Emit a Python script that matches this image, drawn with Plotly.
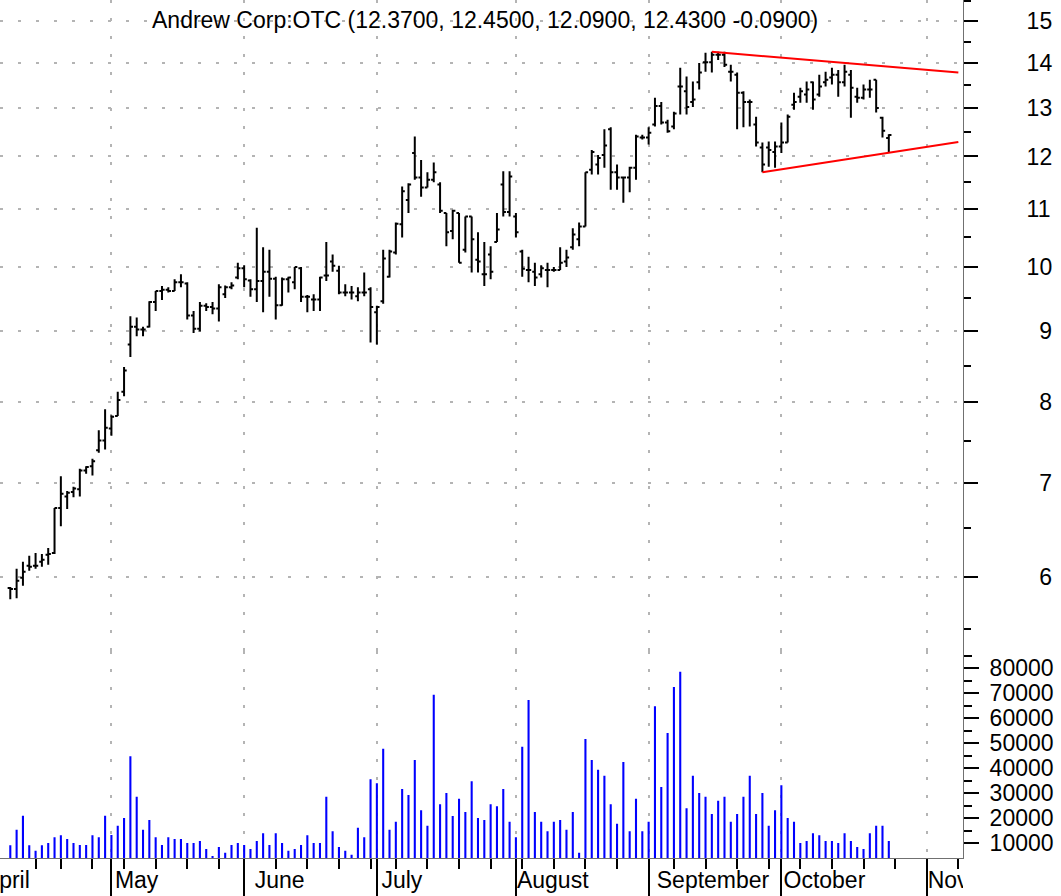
import pandas as pd
import plotly.graph_objects as go

# ---------------- data ----------------
holidays = ["2003-04-18", "2003-05-26", "2003-07-04", "2003-09-01"]
first_day = "2003-04-08"
last_day = "2003-10-24"

opens = [5.89, 5.88, 5.99, 6.11, 6.11, 6.15, 6.22, 6.24, 6.72, 6.85,
         6.90, 6.93, 7.15, 7.20, 7.39, 7.51, 7.66, 7.82, 8.14, 8.80,
         9.06, 9.02, 9.06, 9.44, 9.61, 9.63, 9.61, 9.75, 9.73, 9.23,
         9.03, 9.38, 9.36, 9.34, 9.56, 9.67, 9.83, 9.98, 9.78, 9.64,
         9.77, 9.92, 9.81, 9.39, 9.80, 9.75, 9.98, 9.52, 9.48, 9.48,
         9.86, 10.09, 9.94, 9.59, 9.59, 9.53, 9.59, 9.64, 9.28, 9.45,
         9.84, 10.24, 10.73, 11.17, 12.07, 11.59, 11.40, 11.55, 11.46, 10.93,
         10.61, 10.93, 10.29, 10.87, 10.12, 9.88, 10.21, 10.42, 11.46, 10.95,
         10.87, 10.26, 9.95, 9.92, 9.88, 9.95, 9.95, 9.95, 10.09, 10.33,
         10.47, 10.69, 11.74, 11.84, 12.03, 12.55, 11.69, 11.59, 11.59, 11.78,
         12.38, 12.38, 12.65, 13.04, 12.69, 12.61, 13.47, 13.36, 13.13, 13.56,
         14.02, 14.02, 14.19, 14.19, 13.80, 13.73, 13.33, 13.13, 12.65, 12.18,
         12.18, 12.09, 12.20, 12.28, 13.07, 13.24, 13.29, 13.56, 13.29, 13.56,
         13.67, 13.73, 13.56, 13.73, 13.24, 13.22, 13.40, 13.62, 12.79, 12.37]

highs = [5.90, 6.08, 6.15, 6.21, 6.24, 6.23, 6.29, 6.72, 7.08, 6.91,
         6.96, 7.17, 7.20, 7.29, 7.64, 7.91, 7.83, 8.14, 8.48, 9.22,
         9.20, 9.06, 9.45, 9.61, 9.69, 9.67, 9.80, 9.88, 9.75, 9.30,
         9.44, 9.42, 9.44, 9.72, 9.70, 9.75, 10.07, 10.03, 9.80, 10.67,
         10.33, 10.29, 9.84, 9.83, 9.84, 10.00, 10.00, 9.55, 9.56, 9.84,
         10.42, 10.21, 10.02, 9.72, 9.69, 9.67, 9.91, 9.67, 9.38, 10.29,
         10.29, 10.76, 11.42, 11.48, 12.40, 11.93, 11.69, 11.88, 11.50, 10.93,
         10.99, 10.93, 10.87, 10.87, 10.59, 10.42, 10.35, 10.93, 11.71, 11.71,
         10.93, 10.29, 10.17, 10.07, 10.03, 10.07, 10.00, 10.33, 10.29, 10.66,
         10.76, 11.69, 12.13, 12.03, 12.55, 12.59, 11.84, 11.61, 11.80, 12.44,
         12.44, 12.59, 13.22, 13.13, 12.75, 12.92, 13.89, 13.69, 13.58, 14.00,
         14.24, 14.26, 14.26, 14.26, 13.96, 13.78, 13.36, 13.18, 12.81, 12.28,
         12.30, 12.30, 12.69, 12.86, 13.33, 13.44, 13.58, 13.58, 13.73, 13.80,
         13.89, 13.84, 13.96, 13.84, 13.44, 13.51, 13.62, 13.62, 12.81, 12.45]

lows = [5.78, 5.79, 5.91, 6.06, 6.08, 6.10, 6.12, 6.23, 6.52, 6.71,
        6.84, 6.85, 7.11, 7.09, 7.36, 7.40, 7.57, 7.82, 8.08, 8.62,
        8.92, 8.92, 9.05, 9.30, 9.47, 9.59, 9.61, 9.67, 9.17, 8.97,
        8.99, 9.30, 9.25, 9.14, 9.50, 9.64, 9.80, 9.67, 9.52, 9.44,
        9.28, 9.52, 9.17, 9.38, 9.59, 9.64, 9.44, 9.28, 9.30, 9.30,
        9.77, 9.92, 9.56, 9.53, 9.48, 9.45, 9.53, 8.83, 8.80, 9.41,
        9.83, 10.21, 10.50, 10.93, 11.55, 11.23, 11.40, 11.50, 10.93, 10.35,
        10.47, 10.07, 10.24, 9.91, 9.91, 9.69, 9.80, 10.42, 10.87, 10.87,
        10.50, 9.84, 9.75, 9.69, 9.83, 9.67, 9.92, 9.95, 10.00, 10.29,
        10.35, 10.69, 11.65, 11.65, 11.78, 11.36, 11.36, 11.12, 11.31, 11.55,
        12.34, 12.24, 12.61, 12.65, 12.48, 12.55, 12.86, 12.86, 13.02, 13.40,
        13.80, 13.78, 14.07, 13.91, 13.58, 12.55, 12.59, 12.61, 12.20, 11.69,
        11.80, 11.78, 12.07, 12.28, 12.96, 13.11, 13.11, 12.96, 13.24, 13.47,
        13.51, 13.24, 13.47, 12.79, 13.11, 13.18, 13.22, 12.90, 12.38, 12.09]

closes = [5.88, 5.96, 6.05, 6.10, 6.11, 6.17, 6.23, 6.72, 6.88, 6.89,
          6.94, 7.15, 7.19, 7.26, 7.51, 7.67, 7.81, 8.03, 8.43, 9.06,
          9.02, 9.02, 9.44, 9.61, 9.63, 9.61, 9.75, 9.75, 9.23, 9.03,
          9.38, 9.36, 9.34, 9.67, 9.67, 9.70, 9.98, 9.80, 9.64, 9.77,
          9.92, 9.81, 9.39, 9.80, 9.83, 10.00, 9.52, 9.52, 9.48, 9.83,
          9.86, 10.02, 9.59, 9.59, 9.59, 9.59, 9.59, 9.36, 9.36, 10.14,
          10.26, 10.74, 11.33, 11.46, 11.59, 11.40, 11.55, 11.69, 10.97, 10.59,
          10.97, 10.07, 10.87, 10.47, 10.09, 9.88, 9.92, 10.64, 10.95, 11.61,
          10.59, 9.97, 9.95, 9.83, 9.98, 9.95, 9.95, 10.07, 10.16, 10.55,
          10.69, 11.69, 12.09, 11.97, 12.22, 11.69, 11.59, 11.59, 11.78, 12.40,
          12.38, 12.48, 13.04, 12.69, 12.51, 12.88, 13.47, 13.02, 13.18, 13.78,
          14.02, 14.19, 14.19, 13.96, 13.80, 13.33, 13.13, 13.13, 12.28, 11.84,
          12.13, 12.20, 12.28, 12.81, 13.13, 13.36, 13.40, 13.18, 13.47, 13.62,
          13.73, 13.56, 13.80, 13.44, 13.22, 13.40, 13.40, 13.00, 12.52, 12.43]

volumes = [9100, 15300, 20900, 9100, 6900, 9100, 10000, 12300, 13100, 11600,
           10000, 9200, 9200, 13100, 12300, 20900, 13200, 16900, 20000, 44700,
           28500, 15300, 19200, 12300, 9200, 12300, 11600, 11600, 10000, 10000,
           10800, 7600, 4800, 8400, 6100, 9200, 10000, 9200, 7600, 10800,
           13900, 9200, 13900, 10000, 6900, 7600, 9200, 13100, 10000, 10000,
           28500, 14700, 8400, 6900, 5300, 16100, 12300, 35500, 33900, 47700,
           15300, 18500, 31600, 29200, 43200, 23100, 16900, 69300, 25500, 30000,
           20800, 27700, 22400, 34700, 20000, 19200, 25500, 24700, 31600, 18500,
           12300, 48500, 67200, 22400, 18500, 14700, 18500, 19200, 15300, 22400,
           6100, 51600, 43200, 39300, 36900, 25500, 17700, 42400, 14700, 27700,
           14700, 18500, 64700, 32400, 54000, 72400, 78500, 23900, 36900, 30000,
           28500, 21600, 26900, 28500, 18500, 21600, 28500, 36900, 21600, 30000,
           16900, 23100, 33100, 20000, 18500, 10000, 10800, 13900, 13100, 10800,
           10800, 10000, 13900, 10800, 8400, 7600, 13900, 16900, 16900, 10800]

price_ticks = [6, 7, 8, 9, 10, 11, 12, 13, 14, 15]
price_minor = [5.5, 6.5, 7.5, 8.5, 9.5, 10.5, 11.5, 12.5, 13.5, 14.5, 15.5]
volume_ticks = [10000, 20000, 30000, 40000, 50000, 60000, 70000, 80000]
volume_minor = [15000, 25000, 35000, 45000, 55000, 65000, 75000, 85000]
month_names = ["April", "May", "June", "July", "August", "September", "October", "November"]

title_text = "Andrew Corp:OTC (12.3700, 12.4500, 12.0900, 12.4300 -0.0900)"

trend_upper_dates = ["2003-09-16", "2003-11-10"]
trend_upper_vals = [14.26, 13.78]
trend_lower_dates = ["2003-09-26", "2003-11-10"]
trend_lower_vals = [11.69, 12.29]

# ---------------- calendar ----------------
noon = pd.Timedelta(hours=12)
cal = [d for d in pd.bdate_range("2003-04-01", "2003-11-14")
       if d.strftime("%Y-%m-%d") not in holidays]
x = [d + noon for d in cal if pd.Timestamp(first_day) <= d <= pd.Timestamp(last_day)]
assert len(x) == len(opens) == len(volumes)

month_starts, seen = [], set()
for d in cal:
    if (d.year, d.month) not in seen:
        seen.add((d.year, d.month))
        month_starts.append(d + noon)
week_starts, seen = [], set()
for d in cal:
    k = tuple(d.isocalendar())[:2]
    if k not in seen:
        seen.add(k)
        if d > pd.Timestamp(first_day):
            week_starts.append(d + noon)
label_pos = [d - pd.Timedelta(hours=8) for d in month_starts]

xrange_ = ["2003-04-04 20:54", "2003-11-11 05:45"]
rbreaks = [dict(bounds=["sat", "mon"]), dict(values=holidays)]

FONT = "Liberation Sans, Arial, sans-serif"
GRID = "#b4b4b4"
AXLINE = "#707070"

fig = go.Figure()
fig.add_trace(go.Ohlc(
    x=x, open=opens, high=highs, low=lows, close=closes,
    increasing=dict(line=dict(color="black", width=2)),
    decreasing=dict(line=dict(color="black", width=2)),
    tickwidth=0.42, hoverinfo="skip", showlegend=False,
    xaxis="x", yaxis="y"))
for dts, vals in [(trend_upper_dates, trend_upper_vals), (trend_lower_dates, trend_lower_vals)]:
    fig.add_trace(go.Scatter(
        x=[pd.Timestamp(d) + noon for d in dts], y=vals, mode="lines",
        line=dict(color="#ff0000", width=2), hoverinfo="skip", showlegend=False,
        xaxis="x", yaxis="y"))
fig.add_trace(go.Bar(
    x=x, y=volumes, width=0.33 * 86400000, marker=dict(color="#0000ff", line=dict(width=0)),
    hoverinfo="skip", showlegend=False, xaxis="x2", yaxis="y2"))
# month labels (clipped to the plot width like the original)
fig.add_trace(go.Scatter(
    x=label_pos, y=[0.36] * len(month_starts), mode="text",
    text=month_names[:len(month_starts)], textposition="middle right",
    textfont=dict(family=FONT, size=23, color="black"),
    cliponaxis=True, hoverinfo="skip", showlegend=False, xaxis="x3", yaxis="y3"))

H = 896.0
y_price0 = (H - 651) / H
y_vol0 = 38 / H

common_x = dict(range=xrange_, rangebreaks=rbreaks, type="date", zeroline=False)

fig.update_layout(
    width=1061, height=896,
    margin=dict(l=0, r=98, t=0, b=0, pad=0),
    paper_bgcolor="white", plot_bgcolor="white",
    font=dict(family=FONT, size=23, color="black"),
    showlegend=False,
    xaxis=dict(**common_x, domain=[0, 1], anchor="y", tickmode="array", tickvals=month_starts,
               showticklabels=False, ticks="", showline=False,
               showgrid=True, gridcolor=GRID, gridwidth=2, griddash="3px,15px",
               rangeslider=dict(visible=False)),
    xaxis2=dict(**common_x, domain=[0, 1], anchor="y2", tickmode="array", tickvals=month_starts,
                showticklabels=False, ticks="outside", ticklen=38, tickwidth=2, tickcolor="black",
                showline=True, linecolor=AXLINE, linewidth=1,
                showgrid=True, gridcolor=GRID, gridwidth=2, griddash="3px,15px",
                minor=dict(tickmode="array", tickvals=week_starts, ticks="outside", ticklen=10,
                           tickwidth=2, tickcolor="black", showgrid=False)),
    xaxis3=dict(**common_x, domain=[0, 1], anchor="y3", visible=False),
    yaxis=dict(type="log", domain=[y_price0, 1], anchor="x", side="right",
               range=[0.72493, 1.19126],
               tickmode="array", tickvals=price_ticks,
               ticktext=[("\u00a0\u00a0" if v < 10 else "") + str(v) for v in price_ticks],
               ticks="outside", ticklen=14, tickwidth=2, tickcolor="black",
               ticklabelstandoff=44,
               showline=True, linecolor=AXLINE, linewidth=1,
               showgrid=True, gridcolor=GRID, gridwidth=2, griddash="3px,15px", zeroline=False,
               tickfont=dict(family=FONT, size=23, color="black"),
               minor=dict(tickmode="array", tickvals=price_minor, ticks="outside", ticklen=7,
                          tickwidth=2, tickcolor="black", showgrid=False)),
    yaxis2=dict(domain=[y_vol0, y_price0], anchor="x2", side="right",
                range=[4000, 86800],
                tickmode="array", tickvals=volume_ticks,
                ticktext=[str(v) for v in volume_ticks],
                ticks="outside", ticklen=15, tickwidth=2, tickcolor="black",
                ticklabelstandoff=6,
                showline=True, linecolor=AXLINE, linewidth=1,
                showgrid=False, zeroline=False,
                tickfont=dict(family=FONT, size=23, color="black"),
                minor=dict(tickmode="array", tickvals=volume_minor, ticks="outside", ticklen=8,
                           tickwidth=2, tickcolor="black", showgrid=False)),
    yaxis3=dict(domain=[0, y_vol0], anchor="x3", range=[0, 1], visible=False),
    annotations=[dict(text=title_text, xref="paper", yref="paper",
                      x=485.5 / 963, y=1 - 20 / H, xanchor="center", yanchor="middle",
                      showarrow=False, font=dict(family=FONT, size=23, color="black"))],
)

fig.write_html("out.html", config={"displayModeBar": False, "staticPlot": True},
               post_script="document.body.style.margin='0';document.body.style.overflow='hidden';")
